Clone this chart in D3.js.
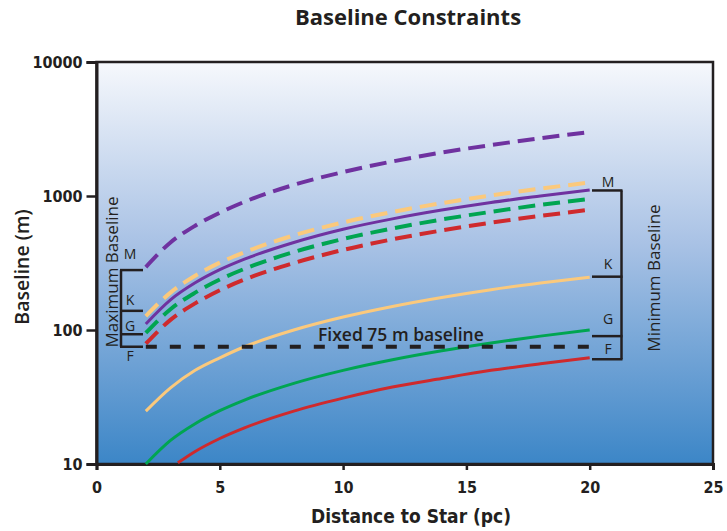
<!DOCTYPE html>
<html>
<head>
<meta charset="utf-8">
<script src="https://cdn.jsdelivr.net/npm/d3@7"></script>
<style>
  body { margin: 0; background: #fff; }
  .tick text { font-family: "Liberation Sans Narrow", "DejaVu Sans Condensed", sans-serif; font-weight: bold; font-size: 16px; fill: #231f20; }
</style>
</head>
<body>
<svg id="mySvg" width="727" height="531"></svg>
<script>
// distances (pc)
var dist = [2, 3, 4, 5, 6, 8, 10, 12, 14, 16, 18, 20];
var distRed = [3.3, 4, 5, 6, 8, 10, 12, 14, 16, 18, 20];

// minimum baseline (solid)
var minM = [111, 168, 225, 282, 338, 450, 565, 675, 785, 895, 1000, 1110];
var minK = [24.8, 37, 50, 62, 75, 100, 125, 150, 175, 200, 224, 248];
var minG = [10, 15, 20, 25, 30, 40, 50, 60, 70, 80, 90, 100];
var minF = [10.2, 12.4, 15.5, 18.6, 24.8, 31, 37.5, 43.5, 50, 56, 62];

// maximum baseline (dashed)
var maxM = [295, 450, 600, 750, 905, 1210, 1510, 1810, 2110, 2400, 2700, 3000];
var maxK = [127, 190, 254, 318, 380, 508, 635, 760, 885, 1010, 1135, 1260];
var maxG = [95, 143, 190, 238, 286, 382, 478, 572, 668, 762, 858, 950];
var maxF = [79, 119, 158, 198, 238, 316, 396, 475, 553, 632, 710, 790];

var fixedDist = [2, 20];
var fixedVal = [75, 75];

var xTicks = [0, 5, 10, 15, 20, 25];
var yTicks = [10, 100, 1000, 10000];

// bracket levels
var leftBracket = [280, 139, 93, 75];
var leftLabels = ["M", "K", "G", "F"];
var rightBracket = [1100, 250, 90, 60.5];
var rightLabels = ["M", "K", "G", "F"];

var purple = "#6f32a0", yellow = "#fbc97c", green = "#00a551", red = "#cf2a2d";

var width = 727, height = 531;
var marginLeft = 96.5, marginRight = 14, marginTop = 62, marginBottom = 67;

var x = d3.scaleLinear().domain([0, 25]).range([marginLeft, width - marginRight]);
var y = d3.scaleLog().domain([10, 10000]).range([height - marginBottom, marginTop]);

var svg = d3.select("#mySvg");

var defs = svg.append("defs");
var grad = defs.append("linearGradient").attr("id", "bg")
    .attr("x1", 0).attr("y1", 0).attr("x2", 0).attr("y2", 1);
grad.append("stop").attr("offset", "0%").attr("stop-color", "#f6f8fc");
grad.append("stop").attr("offset", "45%").attr("stop-color", "#a9c2e5");
grad.append("stop").attr("offset", "100%").attr("stop-color", "#3c86c7");

svg.append("rect")
    .attr("x", x(0)).attr("y", y(10000))
    .attr("width", x(25) - x(0)).attr("height", y(10) - y(10000))
    .attr("fill", "url(#bg)")
    .attr("stroke", "#231f20").attr("stroke-width", 2.5);

// axes
svg.append("g")
    .attr("transform", `translate(0,${y(10)})`)
    .call(d3.axisBottom(x).tickValues(xTicks).tickSize(6).tickPadding(12))
    .call(g => g.select(".domain").attr("stroke-width", 3).attr("stroke", "#231f20"))
    .call(g => g.selectAll(".tick line").attr("stroke-width", 2.5).attr("stroke", "#231f20"));

svg.append("g")
    .attr("transform", `translate(${x(0)},0)`)
    .call(d3.axisLeft(y).tickValues(yTicks).tickFormat(d3.format("d")).tickSize(10).tickPadding(4))
    .call(g => g.select(".domain").attr("stroke-width", 3).attr("stroke", "#231f20"))
    .call(g => g.selectAll(".tick line").attr("stroke-width", 2.5).attr("stroke", "#231f20"))
    .call(g => g.selectAll(".tick text").attr("dy", "0.36em"));

// curves
function draw(xs, ys, color, dashed) {
  var line = d3.line()
      .x((d, i) => x(xs[i]))
      .y(d => y(d))
      .curve(d3.curveMonotoneX);
  svg.append("path")
      .attr("fill", "none")
      .attr("stroke", color)
      .attr("stroke-width", dashed ? 4 : 3)
      .attr("stroke-dasharray", dashed ? "17,8" : null)
      .attr("d", line(ys));
}

draw(dist, maxM, purple, true);
draw(dist, maxK, yellow, true);
draw(dist, maxG, green, true);
draw(dist, maxF, red, true);
draw(dist, minM, purple, false);
draw(dist, minK, yellow, false);
draw(dist, minG, green, false);
draw(distRed, minF, red, false);

// fixed 75 m baseline
svg.append("path")
    .attr("fill", "none")
    .attr("stroke", "#231f20")
    .attr("stroke-width", 4)
    .attr("stroke-dasharray", "11,13")
    .attr("d", d3.line().x((d, i) => x(fixedDist[i])).y(d => y(d))(fixedVal));

svg.append("text")
    .attr("x", 318).attr("y", y(75) - 6)
    .attr("font-family", "Open Sans, sans-serif").attr("font-size", 17.5).attr("font-weight", 600)
    .attr("fill", "#231f20")
    .text("Fixed 75 m baseline");

// left bracket (maximum baseline)
var lb = svg.append("g").attr("stroke", "#231f20").attr("stroke-width", 2.5).attr("fill", "none");
lb.append("line").attr("x1", 121).attr("x2", 121)
    .attr("y1", y(leftBracket[0])).attr("y2", y(leftBracket[3]));
leftBracket.forEach(v => {
  lb.append("line").attr("x1", 120).attr("x2", 143).attr("y1", y(v)).attr("y2", y(v));
});
var leftLabY = [259, 305, 331, 361];
leftLabels.forEach((t, i) => {
  svg.append("text").attr("x", 130).attr("y", leftLabY[i])
      .attr("text-anchor", "middle")
      .attr("font-family", "Open Sans, sans-serif").attr("font-size", 14)
      .attr("fill", "#231f20").text(t);
});

// right bracket (minimum baseline)
var rb = svg.append("g").attr("stroke", "#231f20").attr("stroke-width", 2.5).attr("fill", "none");
rb.append("line").attr("x1", 621.5).attr("x2", 621.5)
    .attr("y1", y(rightBracket[0])).attr("y2", y(rightBracket[3]));
rightBracket.forEach(v => {
  rb.append("line").attr("x1", 592).attr("x2", 622.5).attr("y1", y(v)).attr("y2", y(v));
});
var rightLabY = [187, 269, 324, 354];
rightLabels.forEach((t, i) => {
  svg.append("text").attr("x", 608).attr("y", rightLabY[i])
      .attr("text-anchor", "middle")
      .attr("font-family", "Open Sans, sans-serif").attr("font-size", 14)
      .attr("fill", "#231f20").text(t);
});

svg.append("text")
    .attr("transform", "translate(118,272) rotate(-90)")
    .attr("text-anchor", "middle")
    .attr("font-family", "Open Sans, sans-serif").attr("font-size", 17)
    .attr("fill", "#231f20").text("Maximum Baseline");

svg.append("text")
    .attr("transform", "translate(660,278) rotate(-90)")
    .attr("text-anchor", "middle")
    .attr("font-family", "Open Sans, sans-serif").attr("font-size", 17)
    .attr("fill", "#231f20").text("Minimum Baseline");

// titles
svg.append("text")
    .attr("x", 408).attr("y", 25)
    .attr("text-anchor", "middle")
    .attr("font-family", "Open Sans, sans-serif").attr("font-size", 22).attr("font-weight", "bold")
    .attr("fill", "#231f20").text("Baseline Constraints");

svg.append("text")
    .attr("transform", "translate(29,267) rotate(-90)")
    .attr("text-anchor", "middle")
    .attr("font-family", "Open Sans, sans-serif").attr("font-size", 19.5).attr("font-weight", 600)
    .attr("fill", "#231f20").text("Baseline (m)");

svg.append("text")
    .attr("x", 411).attr("y", 523)
    .attr("text-anchor", "middle")
    .attr("font-family", "Liberation Sans Narrow, DejaVu Sans Condensed, sans-serif").attr("font-size", 19).attr("font-weight", "bold")
    .attr("fill", "#231f20").text("Distance to Star (pc)");
</script>
</body>
</html>
